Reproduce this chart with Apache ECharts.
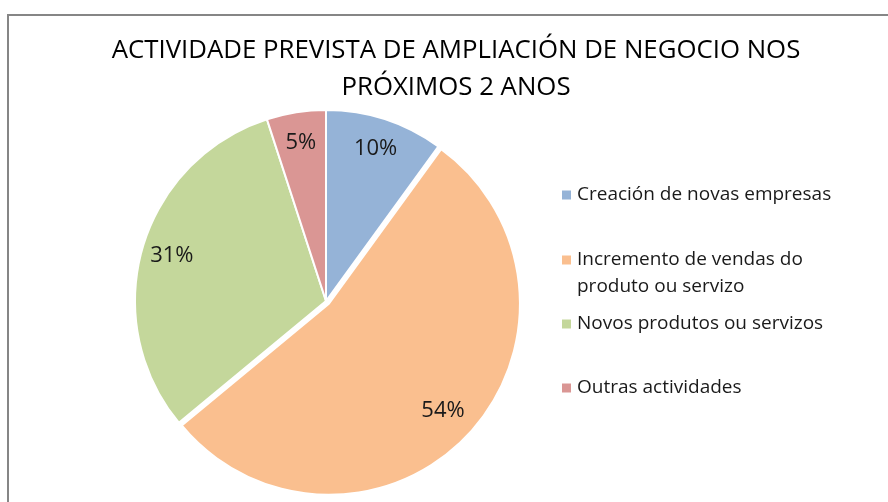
<!DOCTYPE html>
<html>
<head>
<meta charset="utf-8">
<script src="https://cdn.jsdelivr.net/npm/echarts@6/dist/echarts.min.js"></script>
<style>
  html, body { margin: 0; padding: 0; background: #fff; }
  #chart { width: 888px; height: 502px; }
</style>
</head>
<body>
<div id="chart"></div>
<script>
// datos
const categorias = [
  "Creación de novas empresas",
  "Incremento de vendas do produto ou servizo",
  "Novos produtos ou servizos",
  "Outras actividades",
];
const valores = [10, 54, 31, 5];
const cores = ["#95B3D7", "#FABF8F", "#C4D79B", "#DA9694"];

function setPie() {
  let myChart = echarts.init(document.getElementById("chart"));

  // centro da lenda de cada elemento (y)
  const lendaY = [195, 260, 324, 388];
  const lineH = 27;

  let legends = categorias.map(function (nome, i) {
    let dous = i === 1; // texto en dúas liñas
    return {
      data: [nome],
      orient: "vertical",
      left: 560,
      top: dous ? lendaY[i] - lineH * 1.5 : lendaY[i] - lineH / 2,
      padding: 0,
      icon: "rect",
      itemWidth: 11,
      itemHeight: 11,
      selectedMode: false,
      formatter: function (n) {
        if (n === categorias[1]) return "\nIncremento de vendas do\nproduto ou servizo";
        return n;
      },
      textStyle: {
        fontFamily: "Open Sans",
        fontSize: 19,
        color: "#1a1a1a",
        lineHeight: lineH,
      },
    };
  });

  let datos = categorias.map(function (nome, i) {
    return {
      name: nome,
      value: valores[i],
      selected: i === 1,
      itemStyle: { color: cores[i] },
    };
  });

  let option = {
    backgroundColor: "#fff",
    animation: false,
    title: {
      text: "ACTIVIDADE PREVISTA DE AMPLIACIÓN DE NEGOCIO NOS\nPRÓXIMOS 2 ANOS",
      left: 456,
      textAlign: "center",
      top: 32,
      padding: 0,
      textStyle: {
        fontFamily: "Open Sans",
        fontSize: 25.8,
        fontWeight: "normal",
        color: "#000",
        lineHeight: 37,
      },
    },
    legend: legends,
    graphic: [
      {
        type: "rect",
        shape: { x: 8, y: 15, width: 1000, height: 1000 },
        style: { fill: null, stroke: "#868686", lineWidth: 2 },
        silent: true,
      },
    ],
    series: [
      {
        name: "actividade",
        type: "pie",
        radius: 191,
        center: [326, 301],
        startAngle: 90,
        clockwise: true,
        selectedMode: "single",
        selectedOffset: 4,
        avoidLabelOverlap: false,
        label: { show: false },
        labelLine: { show: false },
        emphasis: { disabled: true },
        itemStyle: { borderColor: "#fff", borderWidth: 2 },
        data: datos,
      },
      {
        // só para as etiquetas de porcentaxe
        name: "etiquetas",
        type: "pie",
        radius: [124, 191],
        center: [326, 301],
        startAngle: 90,
        clockwise: true,
        silent: true,
        avoidLabelOverlap: false,
        emphasis: { disabled: true },
        itemStyle: { color: "rgba(0,0,0,0)" },
        label: {
          show: true,
          position: "inside",
          formatter: "{d}%",
          fontFamily: "Open Sans",
          fontSize: 22,
          color: "#1a1a1a",
        },
        labelLine: { show: false },
        data: categorias.map(function (nome, i) {
          return { name: nome, value: valores[i] };
        }),
      },
    ],
  };
  myChart.setOption(option);
}
setPie();
</script>
</body>
</html>
